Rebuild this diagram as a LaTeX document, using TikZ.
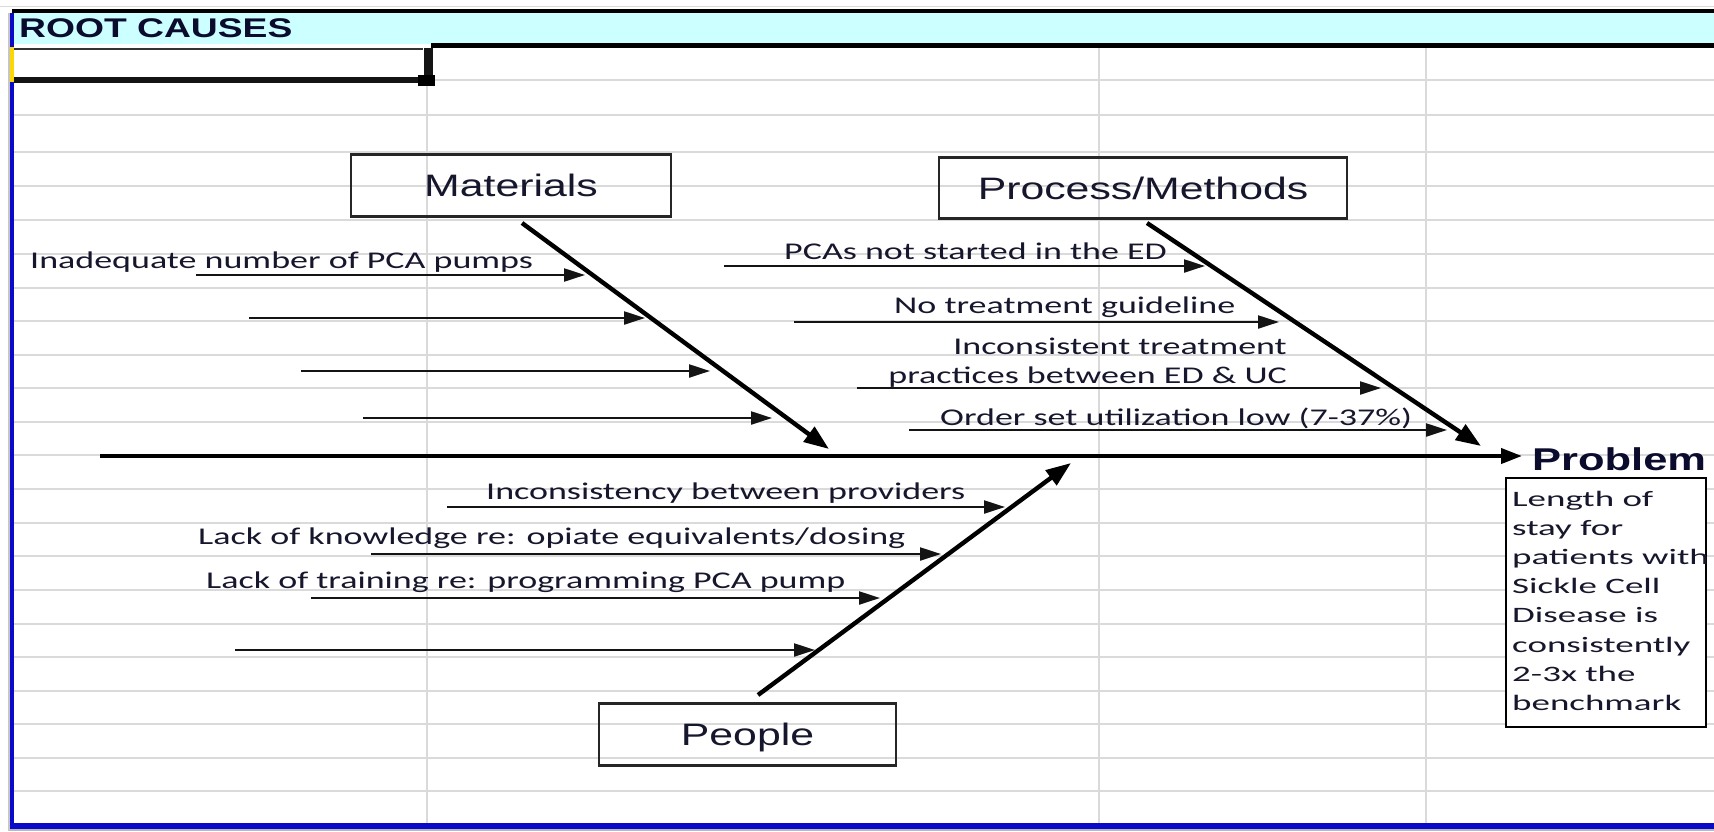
\documentclass[tikz,border=0pt]{standalone}
\usepackage{fontspec}
\usetikzlibrary{arrows.meta}
% Wide sheet-style faces
\newfontfamily\hdfont[FakeStretch=1.38]{Liberation Sans}
\newfontfamily\lblfont[FakeStretch=1.5]{Carlito}
\newfontfamily\probfont[FakeStretch=1.68]{Carlito}
\definecolor{band}{HTML}{CCFFFF}
\definecolor{gridc}{HTML}{DADADA}
\definecolor{sheetblue}{HTML}{0A0AC8}
\definecolor{ink}{HTML}{16162C}
\definecolor{navy}{HTML}{0B0B2E}
\definecolor{boxc}{HTML}{262626}
\tikzset{
  gridline/.style={draw=gridc, line width=2pt},
  catbox/.style={draw=boxc, line width=2.5pt, inner sep=0pt, text=ink,
    font=\hdfont\fontsize{31}{37}\selectfont, text height=22pt, text depth=0pt},
  lbl/.style={anchor=base west, inner sep=0pt, text=ink,
    font=\lblfont\fontsize{24}{28}\selectfont},
  lblr/.style={lbl, anchor=base east},
  probline/.style={anchor=base west, inner sep=0pt, text=ink,
    font=\probfont\fontsize{22}{29}\selectfont},
  rib/.style={draw=black!92, line width=2.2pt, -{Triangle[length=21pt,width=13pt]}},
  bone/.style={draw=black, line width=4.4pt, -{Triangle[length=25pt,width=18pt]}},
  spine/.style={draw=black, line width=4pt, -{Triangle[length=21pt,width=15pt]}},
}
\begin{document}
\begin{tikzpicture}[x=1pt,y=-1pt]
\useasboundingbox (0,0) rectangle (1714,831);
\fill[white] (0,0) rectangle (1714,831);

% sheet grid
\draw[gridline] (435,80) -- (1714,80);
\foreach \yy in {115,152,186,220,254,288,321,355,388,422,455,489,523,556,590,624,657,691,724,758,791}
  \draw[gridline] (14,\yy) -- (1714,\yy);
\foreach \xx in {427,1099,1426}
  \draw[gridline] (\xx,48) -- (\xx,823);
\draw[gridc, line width=1.5pt] (0,6.5) -- (1714,6.5);

% title band
\fill[band] (14,12) rectangle (1714,44);
\draw[black, line width=4pt] (12,10.5) -- (1714,10.5);
\draw[black, line width=4.5pt] (431,45.5) -- (1714,45.5);
\draw[black!80, line width=2pt] (14,49) -- (423,49);
\node[anchor=base west, inner sep=0pt, text=navy,
  font=\hdfont\bfseries\fontsize{27}{32}\selectfont] (title) at (19,37) {ROOT CAUSES};

% selected-cell outline
\draw[black!92, line width=6pt] (14,80) -- (418,80);
\fill[black!92] (423.5,48) rectangle (432.5,76);
\fill[black] (418,75) rectangle (435,86);

% sheet frame
\fill[gray!45] (7.5,13) rectangle (9.5,831);
\fill[sheetblue] (9.5,13) rectangle (14,47);
\fill[yellow!75!orange] (9.5,47) rectangle (14,82);
\fill[sheetblue] (9.5,82) rectangle (14,829);
\fill[sheetblue] (9.5,823) rectangle (1714,829);
\fill[gray!55] (9.5,829) rectangle (1714,831);

% category boxes
\node[catbox, minimum width=320pt, minimum height=62pt] (mat) at (511,185.5) {Materials};
\node[catbox, minimum width=408pt, minimum height=61pt] (proc) at (1143,188) {Process/Methods};
\node[catbox, minimum width=297pt, minimum height=62pt] (ppl) at (747.5,734.5) {People};

% effect
\node[anchor=base west, inner sep=0pt, text=navy,
  font=\hdfont\bfseries\fontsize{31.5}{37}\selectfont] (prob) at (1532,470) {Problem};
\node[draw=black, fill=white, line width=2.5pt, inner sep=0pt,
  minimum width=200pt, minimum height=249pt] (probbox) at (1606,602.5) {};
\foreach \t [count=\i] in {Length of,stay for,patients with,Sickle Cell,Disease is,consistently,2-3x the,benchmark}
  \node[probline] (pl\i) at (1512,{506+29.2*(\i-1)}) {\t};

% spine and bones
\coordinate (sp0) at (100,456);
\coordinate (sp1) at (1522,456);
\draw[spine] (sp0) -- (sp1);

\coordinate (mb0) at (522,223);
\coordinate (mb1) at (829,449);
\coordinate (pb0) at (1147,223);
\coordinate (pb1) at (1481,446);
\coordinate (qb0) at (758,695);
\coordinate (qb1) at (1071,463);
\draw[bone] (mb0) -- (mb1);
\draw[bone] (pb0) -- (pb1);
\draw[bone] (qb0) -- (qb1);

% Materials causes
\coordinate (m1a) at (196,275); \coordinate (m1b) at (585,275);
\coordinate (m2a) at (249,318); \coordinate (m2b) at (645,318);
\coordinate (m3a) at (301,371); \coordinate (m3b) at (710,371);
\coordinate (m4a) at (363,418); \coordinate (m4b) at (772,418);
\draw[rib] (m1a) -- (m1b);
\draw[rib] (m2a) -- (m2b);
\draw[rib] (m3a) -- (m3b);
\draw[rib] (m4a) -- (m4b);
\node[lbl] (m1t) at (30,268) {Inadequate number of PCA pumps};

% Process/Methods causes
\coordinate (p1a) at (724,266); \coordinate (p1b) at (1205,266);
\coordinate (p2a) at (794,322); \coordinate (p2b) at (1279,322);
\coordinate (p3a) at (857,388); \coordinate (p3b) at (1381,388);
\coordinate (p4a) at (909,430); \coordinate (p4b) at (1447,430);
\draw[rib] (p1a) -- (p1b);
\draw[rib] (p2a) -- (p2b);
\draw[rib] (p3a) -- (p3b);
\draw[rib] (p4a) -- (p4b);
\node[lbl] (p1t) at (784,259) {PCAs not started in the ED};
\node[lbl] (p2t) at (894,313) {No treatment guideline};
\node[lblr] (p3t) at (1287,354) {Inconsistent treatment};
\node[lblr] (p3u) at (1287,383) {practices between ED \& UC};
\node[lbl] (p4t) at (940,425) {Order set utilization low (7-37\%)};

% People causes
\coordinate (q1a) at (447,507); \coordinate (q1b) at (1005,507);
\coordinate (q2a) at (371,554); \coordinate (q2b) at (941,554);
\coordinate (q3a) at (311,598); \coordinate (q3b) at (880,598);
\coordinate (q4a) at (235,650); \coordinate (q4b) at (815,650);
\draw[rib] (q1a) -- (q1b);
\draw[rib] (q2a) -- (q2b);
\draw[rib] (q3a) -- (q3b);
\draw[rib] (q4a) -- (q4b);
\node[lbl] (q1t) at (486,499) {Inconsistency between providers};
\node[lbl] (q2t) at (198,544) {Lack of knowledge re: opiate equivalents/dosing};
\node[lbl] (q3t) at (206,588) {Lack of training re: programming PCA pump};
\end{tikzpicture}
\end{document}
